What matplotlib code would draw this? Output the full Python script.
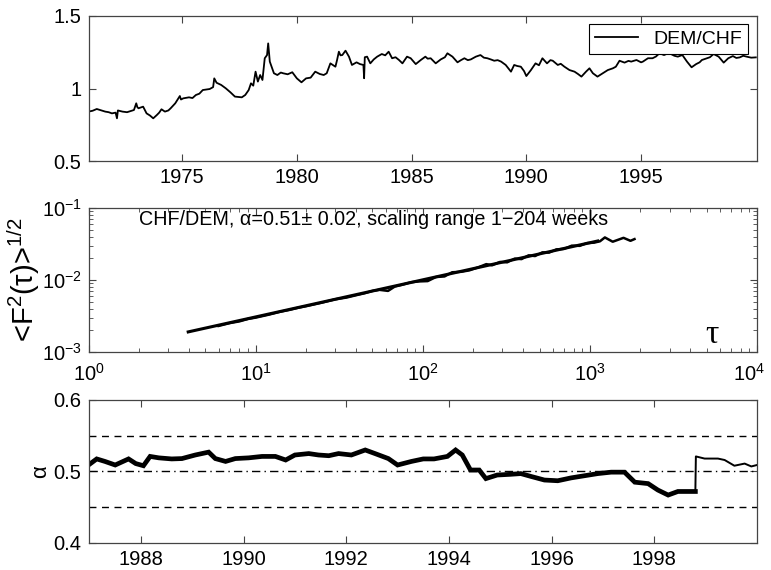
import matplotlib
matplotlib.use('Agg')
import matplotlib.pyplot as plt
import matplotlib.transforms as mtransforms
from matplotlib.ticker import LogLocator, NullFormatter

plt.rcParams['font.family'] = ['Liberation Sans', 'DejaVu Sans']
plt.rcParams['mathtext.fontset'] = 'custom'
plt.rcParams['mathtext.rm'] = 'Liberation Sans'
plt.rcParams['mathtext.default'] = 'regular'

# top panel: DEM/CHF rate
rateYears = [1970.92, 1971.1, 1971.28, 1971.43, 1971.65, 1971.8, 1971.94, 1972.1, 1972.16, 1972.2,
             1972.4, 1972.6, 1972.9, 1973.0, 1973.05, 1973.1, 1973.3, 1973.45, 1973.6, 1973.74,
             1973.9, 1974.0, 1974.1, 1974.25, 1974.4, 1974.5, 1974.7, 1974.9, 1974.95, 1975.05,
             1975.3, 1975.45, 1975.6, 1975.75, 1975.9, 1976.2, 1976.35, 1976.4, 1976.5, 1976.7,
             1976.9, 1977.1, 1977.3, 1977.6, 1977.75, 1977.9, 1978.0, 1978.1, 1978.2, 1978.3,
             1978.4, 1978.5, 1978.6, 1978.7, 1978.75, 1978.82, 1979.0, 1979.15, 1979.3, 1979.4,
             1979.6, 1979.8, 1980.0, 1980.2, 1980.4, 1980.6, 1980.8, 1981.0, 1981.17, 1981.3,
             1981.46, 1981.68, 1981.75, 1981.83, 1981.9, 1981.98, 1982.12, 1982.27, 1982.4,
             1982.6, 1982.75, 1982.9, 1982.93, 1982.96, 1983.06, 1983.2, 1983.35, 1983.5,
             1983.7, 1983.85, 1984.0, 1984.15, 1984.3, 1984.45, 1984.6, 1984.8, 1984.96,
             1985.18, 1985.4, 1985.6, 1985.7, 1985.83, 1986.05, 1986.27, 1986.45, 1986.56,
             1986.78, 1987.0, 1987.15, 1987.3, 1987.45, 1987.58, 1987.8, 1988.0, 1988.15,
             1988.3, 1988.45, 1988.6, 1988.75, 1988.9, 1989.1, 1989.33, 1989.47, 1989.6,
             1989.76, 1989.9, 1990.0, 1990.2, 1990.4, 1990.55, 1990.7, 1990.9, 1991.05,
             1991.15, 1991.37, 1991.5, 1991.66, 1991.88, 1992.1, 1992.25, 1992.4, 1992.6,
             1992.75, 1992.9, 1993.1, 1993.33, 1993.55, 1993.77, 1993.9, 1994.06, 1994.28,
             1994.45, 1994.57, 1994.8, 1995.0, 1995.08, 1995.3, 1995.5, 1995.65, 1995.8,
             1996.0, 1996.15, 1996.3, 1996.45, 1996.6, 1996.8, 1997.0, 1997.2, 1997.4,
             1997.55, 1997.65, 1997.87, 1998.0, 1998.16, 1998.38, 1998.6, 1998.8, 1999.0,
             1999.15, 1999.3, 1999.45, 1999.6, 1999.8, 2000.0]
rateValues = [0.842, 0.848, 0.860, 0.853, 0.842, 0.838, 0.830, 0.835, 0.796, 0.850,
              0.842, 0.838, 0.853, 0.899, 0.872, 0.865, 0.876, 0.830, 0.815, 0.796,
              0.819, 0.835, 0.858, 0.842, 0.850, 0.865, 0.899, 0.949, 0.925, 0.933,
              0.940, 0.935, 0.956, 0.965, 0.990, 0.997, 1.010, 1.070, 1.040, 1.025,
              1.002, 0.975, 0.945, 0.940, 0.956, 0.990, 1.036, 1.020, 1.116, 1.048,
              1.093, 1.059, 1.208, 1.230, 1.310, 1.185, 1.105, 1.093, 1.110, 1.105,
              1.098, 1.112, 1.070, 1.043, 1.070, 1.075, 1.116, 1.100, 1.093, 1.105,
              1.173, 1.150, 1.195, 1.253, 1.228, 1.230, 1.260, 1.219, 1.162,
              1.180, 1.168, 1.162, 1.071, 1.215, 1.219, 1.173, 1.200, 1.219,
              1.237, 1.228, 1.253, 1.208, 1.215, 1.196, 1.173, 1.219, 1.208,
              1.168, 1.196, 1.219, 1.205, 1.208, 1.173, 1.200, 1.215, 1.242,
              1.219, 1.180, 1.195, 1.208, 1.195, 1.200, 1.219, 1.230, 1.212,
              1.208, 1.200, 1.191, 1.195, 1.185, 1.162, 1.116, 1.162, 1.155,
              1.150, 1.120, 1.086, 1.127, 1.173, 1.160, 1.208, 1.173, 1.195,
              1.191, 1.162, 1.170, 1.150, 1.127, 1.116, 1.100, 1.082, 1.116,
              1.139, 1.105, 1.082, 1.105, 1.127, 1.139, 1.150, 1.191, 1.178,
              1.190, 1.185, 1.196, 1.180, 1.185, 1.208, 1.208, 1.220, 1.242,
              1.230, 1.240, 1.237, 1.225, 1.219, 1.230, 1.185, 1.146, 1.168,
              1.180, 1.196, 1.208, 1.215, 1.237, 1.219, 1.178, 1.208, 1.223,
              1.210, 1.214, 1.225, 1.219, 1.212, 1.214]

# middle panel: fluctuation function and its fit
tauData = [6, 7, 8, 9, 10, 12, 14, 16, 18, 20, 25, 30, 35, 40, 45, 50, 55, 62, 68, 75,
           85, 95, 107, 120, 135, 150, 170, 190, 215, 240, 260, 290, 320, 355, 390,
           430, 470, 520, 570, 630, 700, 780, 870, 960, 1060, 1150, 1230, 1370, 1590,
           1750, 1850]
fData = [2.30e-3, 2.52e-3, 2.66e-3, 2.88e-3, 3.00e-3, 3.30e-3, 3.62e-3, 3.85e-3,
         4.12e-3, 4.32e-3, 4.85e-3, 5.40e-3, 5.70e-3, 6.15e-3, 6.55e-3, 7.05e-3,
         7.30e-3, 7.05e-3, 8.10e-3, 8.55e-3, 9.30e-3, 9.55e-3, 9.65e-3, 1.10e-2,
         1.12e-2, 1.28e-2, 1.30e-2, 1.36e-2, 1.50e-2, 1.66e-2, 1.60e-2, 1.78e-2,
         1.76e-2, 1.98e-2, 1.95e-2, 2.20e-2, 2.15e-2, 2.42e-2, 2.40e-2, 2.66e-2,
         2.70e-2, 3.00e-2, 2.98e-2, 3.25e-2, 3.30e-2, 3.45e-2, 3.90e-2, 3.40e-2,
         3.85e-2, 3.50e-2, 3.70e-2]
tauFit = [3.95, 1114]
fFit = [1.9e-3, 3.48e-2]

# bottom panel: local alpha
alphaYears = [1986.98, 1987.14, 1987.3, 1987.5, 1987.76, 1987.9, 1988.05, 1988.18,
              1988.35, 1988.6, 1988.8, 1989.06, 1989.32, 1989.45, 1989.65, 1989.84,
              1990.1, 1990.36, 1990.62, 1990.82, 1991.0, 1991.27, 1991.46, 1991.66,
              1991.85, 1992.1, 1992.37, 1992.56, 1992.82, 1993.0, 1993.27, 1993.5,
              1993.71, 1993.97, 1994.13, 1994.26, 1994.42, 1994.59, 1994.72, 1994.94,
              1995.2, 1995.4, 1995.6, 1995.86, 1996.12, 1996.38, 1996.64, 1996.9,
              1997.16, 1997.42, 1997.62, 1997.88, 1998.07, 1998.27, 1998.46, 1998.66,
              1998.8]
alphaValues = [0.509, 0.5175, 0.514, 0.509, 0.5175, 0.511, 0.508, 0.521,
               0.519, 0.5175, 0.518, 0.523, 0.527, 0.518, 0.514, 0.518,
               0.519, 0.521, 0.521, 0.516, 0.523, 0.525, 0.523, 0.522,
               0.525, 0.523, 0.530, 0.525, 0.518, 0.509, 0.514, 0.5175,
               0.5175, 0.521, 0.530, 0.523, 0.502, 0.502, 0.490, 0.495,
               0.496, 0.497, 0.493, 0.488, 0.487, 0.491, 0.494, 0.497,
               0.499, 0.499, 0.485, 0.483, 0.474, 0.467, 0.472, 0.472,
               0.472]
alphaYearsLate = [1998.8, 1998.81, 1998.98, 1999.24, 1999.37, 1999.56, 1999.76, 1999.89, 2000.0]
alphaValuesLate = [0.472, 0.521, 0.518, 0.518, 0.516, 0.508, 0.511, 0.507, 0.509]

fig = plt.figure(figsize=(7.71, 5.70), dpi=100)
ax1 = fig.add_axes([0.1148, 0.7167, 0.867, 0.2558])
ax2 = fig.add_axes([0.1148, 0.3825, 0.867, 0.2526])
ax3 = fig.add_axes([0.1148, 0.0474, 0.867, 0.2510])

for ax in (ax1, ax2, ax3):
    ax.tick_params(direction='in', top=True, right=True, length=5, width=0.8,
                   labelsize=14.5, pad=5, color='#444444')
    ax.tick_params(which='minor', direction='in', top=True, right=True, length=3,
                   width=0.6, color='#444444')
    for s in ax.spines.values():
        s.set_color('#444444')
        s.set_linewidth(0.9)

# top
ax1.plot(rateYears, rateValues, color='black', lw=1.3, label='DEM/CHF')
ax1.set_xlim(1970.92, 2000.05)
ax1.set_ylim(0.5, 1.5)
ax1.set_xticks([1975, 1980, 1985, 1990, 1995])
ax1.set_yticks([0.5, 1, 1.5])
ax1.set_yticklabels(['0.5', '1', '1.5'])
leg = ax1.legend(loc='upper right', fontsize=14, handlelength=2.2, fancybox=False,
                 borderaxespad=0.45, borderpad=0.3, framealpha=1)
leg.get_frame().set_edgecolor('black')
leg.get_frame().set_linewidth(0.8)

# middle
ax2.set_xscale('log')
ax2.set_yscale('log')
ax2.plot(tauFit, fFit, color='black', lw=2.2)
ax2.plot(tauData, fData, color='black', lw=1.8)
ax2.set_xlim(1, 1e4)
ax2.set_ylim(1e-3, 1e-1)
ax2.set_xticks([1, 10, 100, 1000, 10000])
ax2.xaxis.set_minor_locator(LogLocator(base=10, subs=range(2, 10)))
ax2.yaxis.set_minor_locator(LogLocator(base=10, subs=range(2, 10)))
ax2.xaxis.set_minor_formatter(NullFormatter())
ax2.yaxis.set_minor_formatter(NullFormatter())
ax2.tick_params(axis='x', pad=8)
# keep the 10^4 label inside the figure
fig.canvas.draw()
lastLabel = ax2.get_xticklabels()[-1]
lastLabel.set_transform(lastLabel.get_transform() +
                        mtransforms.ScaledTranslation(-6 / 72, 0, fig.dpi_scale_trans))
ax2.text(0.076, 0.917, 'CHF/DEM, α=0.51± 0.02, scaling range 1−204 weeks',
         transform=ax2.transAxes, fontsize=14.2, va='center', ha='left')
ax2.text(0.933, 0.12, 'τ', transform=ax2.transAxes, fontsize=24, va='center',
         ha='center', family=['Liberation Serif', 'DejaVu Serif'])
ax2.set_ylabel('<F$^2$(τ)>$^{1/2}$', fontsize=21, labelpad=0)

# bottom
ax3.plot(alphaYears, alphaValues, color='black', lw=3.4, solid_joinstyle='miter')
ax3.plot(alphaYearsLate, alphaValuesLate, color='black', lw=1.4)
ax3.axhline(0.55, color='black', lw=1.0, ls=(0, (5, 4)))
ax3.axhline(0.45, color='black', lw=1.0, ls=(0, (5, 4)))
ax3.axhline(0.50, color='black', lw=1.0, ls=(0, (6, 3, 1, 3)))
ax3.set_xlim(1986.98, 2000.0)
ax3.set_ylim(0.4, 0.6)
ax3.set_xticks([1988, 1990, 1992, 1994, 1996, 1998])
ax3.set_yticks([0.4, 0.5, 0.6])
ax3.set_yticklabels(['0.4', '0.5', '0.6'])
ax3.set_ylabel('α', fontsize=16, labelpad=2)

fig.savefig('out.png', dpi=100)
